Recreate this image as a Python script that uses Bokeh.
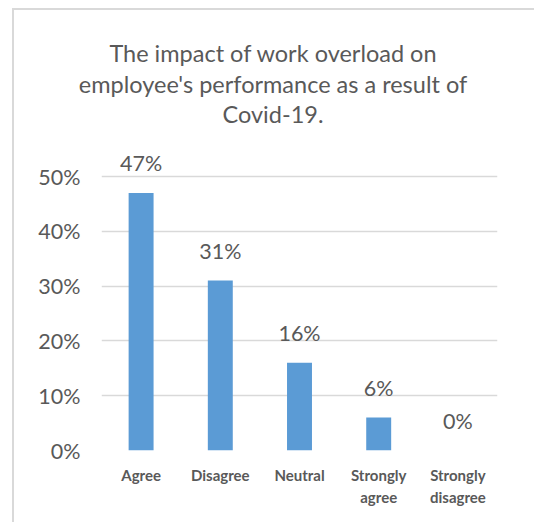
from bokeh.plotting import figure
from bokeh.models import (ColumnDataSource, FixedTicker, PrintfTickFormatter, Range1d, Div)
from bokeh.layouts import column
from bokeh.core.properties import value
from bokeh.embed import file_html
from bokeh.resources import INLINE

# data
categories = ["Agree", "Disagree", "Neutral", "Strongly\nagree", "Strongly\ndisagree"]
percentages = [47, 31, 16, 6, 0]
value_labels = ["47%", "31%", "16%", "6%", "0%"]
y_ticks = [0, 10, 20, 30, 40, 50]
title_lines = ["The impact of work overload on",
               "employee's performance as a result of",
               "Covid-19."]

TEXT = "#595959"
FONT = "Lato"

src = ColumnDataSource(dict(cat=categories, val=percentages, lab=value_labels))

title = Div(text="<br>".join(title_lines), width=520, height=130, margin=0,
            styles={"text-align": "center", "font-family": FONT, "font-size": "23.5px",
                    "line-height": "30.5px", "color": TEXT, "padding-top": "28px",
                    "padding-right": "2px", "box-sizing": "border-box"})

p = figure(x_range=categories, y_range=Range1d(0, 55.84),
           width=518, height=382, output_backend="svg", toolbar_location=None,
           min_border_left=87, min_border_right=35, min_border_top=4, min_border_bottom=72)
p.margin = 0
p.outline_line_color = None
p.background_fill_color = "white"
p.border_fill_color = "white"

p.vbar(x="cat", top="val", width=0.315, source=src, color="#5b9bd5", line_color=None)
p.text(x="cat", y="val", text="lab", source=src, y_offset=-30,
       text_align="center", text_baseline="middle", text_color=TEXT,
       text_font=value(FONT), text_font_size="21.5px")

# axes
p.xgrid.grid_line_color = None
p.ygrid.grid_line_color = "#d9d9d9"
p.ygrid.grid_line_width = 1.5
p.yaxis.ticker = FixedTicker(ticks=y_ticks)
p.yaxis.formatter = PrintfTickFormatter(format="%d%%")
for ax in (p.xaxis[0], p.yaxis[0]):
    ax.axis_line_color = None
    ax.major_tick_line_color = None
    ax.minor_tick_line_color = None
    ax.major_tick_out = 0
    ax.major_tick_in = 0
    ax.minor_tick_out = 0
    ax.major_label_text_color = TEXT
    ax.major_label_text_font = FONT
p.yaxis.major_label_text_font_size = "21.5px"
p.yaxis.major_label_standoff = 21
p.xaxis.major_label_text_font_size = "15px"
p.xaxis.major_label_text_font_style = "bold"
p.xaxis.major_label_text_line_height = 1.25
p.xaxis.major_label_standoff = 15

layout = column(title, p, spacing=0,
                styles={"border-top": "2px solid #d9d9d9", "border-left": "2px solid #d9d9d9",
                        "margin-left": "12px", "margin-top": "8px"})

open("out.html", "w").write(file_html(layout, INLINE))
